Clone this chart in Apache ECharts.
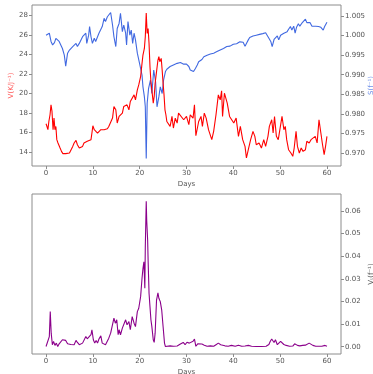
<!DOCTYPE html>
<html><head><meta charset="utf-8">
<script src="https://cdn.jsdelivr.net/npm/echarts@6/dist/echarts.min.js"></script>
<style>html,body{margin:0;padding:0;background:#fff}#c{width:373px;height:374px}</style>
</head><body><div id="c"></div>
<script>
var xTicks = [0, 10, 20, 30, 40, 50, 60];
var leftTicks = [14, 16, 18, 20, 22, 24, 26, 28];
var rightTicks = [0.970, 0.975, 0.980, 0.985, 0.990, 0.995, 1.000, 1.005];
var bottomTicks = [0.00, 0.01, 0.02, 0.03, 0.04, 0.05, 0.06];

var redDays = [0,0.2,0.4,0.6,0.85,1.06,1.27,1.5,1.7,1.9,2.1,2.3,2.55,2.8,3.0,3.3,3.6,3.9,4.2,4.6,5.0,5.3,5.7,6.0,6.4,6.7,7.1,7.4,7.8,8.1,8.5,8.8,9.2,9.6,9.8,10.0,10.3,10.6,11.0,11.3,11.7,12.0,12.4,12.7,13.1,13.4,13.8,14.2,14.5,14.9,15.2,15.6,15.9,16.3,16.6,17.0,17.3,17.7,18.0,18.4,18.8,19.1,19.5,19.8,20.2,20.5,20.7,21.0,21.2,21.4,21.6,21.8,22.0,22.2,22.4,22.6,22.9,23.1,23.3,23.6,23.9,24.1,24.3,24.6,24.8,25.0,25.2,25.4,25.6,25.8,26.2,26.5,26.9,27.2,27.6,28.0,28.3,28.7,29.4,30.0,30.5,30.8,31.4,31.7,32.0,32.6,33.1,33.4,33.8,34.2,34.7,35.4,35.8,36.3,36.8,37.2,37.5,37.7,38.1,38.4,38.7,39.2,39.6,40.1,40.6,41.1,41.5,42.0,42.5,42.8,43.2,43.7,44.2,44.6,44.9,45.5,46.0,46.5,46.9,47.4,47.7,48.2,48.5,48.8,49.2,49.6,50.0,50.4,50.8,51.1,51.4,51.8,52.3,52.7,53.0,53.4,53.7,54.1,54.5,54.9,55.4,55.7,56.2,56.6,57.0,57.5,57.9,58.3,58.7,59.0,59.4,59.7,60.0];
var redVals = [16.88,16.60,16.27,17.11,17.80,18.82,18.14,16.27,17.46,16.27,16.60,15.25,14.91,15.08,14.39,14.05,13.82,13.95,13.82,13.95,13.88,14.05,14.56,14.91,15.18,14.73,14.39,14.22,14.56,14.91,14.73,15.08,14.91,15.25,15.93,16.67,16.27,16.44,15.93,16.10,16.27,16.44,16.27,16.44,16.37,16.60,16.78,17.46,18.65,18.31,16.95,17.63,17.46,17.97,18.65,18.48,18.82,18.31,19.16,19.33,19.84,19.33,20.35,20.86,21.71,23.07,23.92,24.60,25.79,28.24,26.13,26.64,25.11,22.73,21.20,20.35,18.99,19.67,21.03,22.22,23.41,23.75,23.24,23.58,22.39,21.03,19.84,18.31,17.80,17.11,17.29,16.61,17.63,16.44,17.46,16.95,17.97,17.80,17.29,17.63,16.78,17.80,17.46,18.82,15.65,17.11,17.63,16.61,17.97,17.46,16.27,15.25,16.10,17.80,19.84,19.33,20.25,17.63,20.01,20.21,18.99,17.63,17.80,16.95,17.46,15.59,16.61,15.25,14.56,13.37,14.22,15.25,16.10,15.59,14.73,14.91,14.39,15.25,14.56,15.59,16.61,17.29,15.93,17.63,15.59,15.25,15.42,17.63,16.27,16.61,15.25,14.22,13.88,13.54,14.39,16.10,14.56,13.88,14.39,14.05,14.22,15.08,14.91,15.25,15.08,15.59,14.91,17.29,15.93,14.91,13.71,14.56,15.59];

var blueDays = [0,0.35,0.7,0.9,1.06,1.4,1.8,2.1,2.5,2.8,3.2,3.5,3.9,4.2,4.6,5.0,5.3,5.7,6.0,6.4,6.7,7.1,7.4,7.8,8.1,8.5,8.7,9.1,9.3,9.6,9.9,10.3,10.6,11.0,11.3,11.7,12.0,12.4,12.7,13.1,13.4,13.8,14.2,14.5,14.9,15.2,15.6,15.9,16.3,16.6,17.0,17.2,17.5,17.9,18.2,18.5,18.8,19.1,19.5,19.8,20.2,20.5,20.7,21.0,21.2,21.4,21.6,21.9,22.3,22.6,23.0,23.4,23.7,24.1,24.4,24.8,25.1,25.5,25.8,26.5,27.2,28.0,28.7,29.4,30.0,30.5,30.8,31.2,31.5,31.9,32.3,32.6,33.0,33.3,33.7,34.0,34.4,34.7,35.1,35.4,35.8,36.1,36.5,36.8,37.2,37.5,37.9,38.2,38.6,38.9,39.3,39.6,40.0,40.4,40.7,41.1,41.4,41.8,42.1,42.5,42.8,43.2,43.5,43.9,44.2,44.9,45.6,46.3,46.9,47.3,47.6,48.0,48.3,48.7,49.0,49.4,49.7,50.1,50.4,50.8,51.1,51.5,51.8,52.2,52.5,52.9,53.2,53.5,53.9,54.2,54.6,54.9,55.4,55.7,56.1,56.4,56.8,57.1,57.6,58.2,58.7,59.2,59.5,60.0];
var blueVals = [1.0001,1.0004,1.0006,1.0009,0.9985,0.9976,0.9982,0.9993,0.9989,0.9985,0.9987,0.9967,0.9950,0.9922,0.9955,0.9963,0.9967,0.9972,0.9976,0.9980,0.9972,0.9980,0.9985,0.9997,0.9993,1.0006,0.9980,1.0001,1.0023,0.9997,0.9980,0.9993,0.9985,0.9997,1.0006,1.0010,1.0023,1.0044,1.0036,1.0048,1.0044,1.0059,1.0027,0.9997,0.9972,1.0018,1.0031,1.0057,1.0010,1.0027,1.0006,0.9976,1.0036,1.0001,1.0014,0.9980,1.0006,0.9989,0.9955,0.9959,0.9916,0.9899,0.9869,0.9844,0.9818,0.9686,0.9827,0.9865,0.9886,0.9852,0.9912,0.9882,0.9818,0.9844,0.9869,0.9852,0.9886,0.9908,0.9914,0.9921,0.9925,0.9929,0.9931,0.9927,0.9927,0.9921,0.9912,0.9916,0.9908,0.9916,0.9925,0.9933,0.9933,0.9939,0.9946,0.9944,0.9950,0.9948,0.9953,0.9948,0.9955,0.9950,0.9959,0.9956,0.9963,0.9959,0.9967,0.9963,0.9972,0.9967,0.9973,0.9972,0.9978,0.9980,0.9979,0.9982,0.9984,0.9980,0.9983,0.9973,0.9980,0.9989,0.9995,0.9997,0.9999,1.0001,1.0003,1.0005,1.0007,1.0006,0.9993,0.9985,0.9972,0.9990,0.9985,0.9999,0.9989,1.0001,0.9997,1.0006,1.0003,1.0010,1.0016,1.0023,1.0014,1.0024,1.0006,1.0021,1.0030,1.0024,1.0031,1.0028,1.0042,1.0033,1.0038,1.0033,1.0024,1.0023,1.0024,1.0023,1.0021,1.0014,1.0023,1.0034];

var purpleDays = [0,0.35,0.7,0.9,1.1,1.35,1.6,1.9,2.2,2.5,2.8,3.2,3.5,3.9,4.2,4.6,5.0,5.3,5.7,6.0,6.4,6.7,7.1,7.4,7.8,8.1,8.5,8.8,9.2,9.6,9.8,10.1,10.4,10.7,11.0,11.3,11.7,12.0,12.4,12.7,13.1,13.4,13.8,14.2,14.5,14.8,15.1,15.4,15.6,15.9,16.3,16.6,17.0,17.3,17.7,18.0,18.4,18.8,19.1,19.5,19.8,20.2,20.5,20.7,20.9,21.1,21.2,21.4,21.5,21.7,21.8,22.0,22.2,22.4,22.6,22.9,23.1,23.3,23.6,23.9,24.1,24.4,24.7,25.0,25.3,25.5,25.8,26.5,27.2,28.0,28.7,29.3,29.7,30.1,30.6,31.0,31.4,31.7,32.0,32.4,32.8,33.3,33.8,34.4,35.1,35.8,36.3,36.8,37.3,37.7,38.2,38.9,39.6,40.4,41.1,41.8,42.5,43.2,43.9,44.9,46.0,47.0,47.6,47.9,48.2,48.5,48.7,49.0,49.4,49.7,50.1,50.4,50.8,51.3,52.0,52.7,53.1,53.4,53.7,54.2,54.8,55.4,55.8,56.2,56.5,57.0,57.6,58.3,58.9,59.3,59.6,60.0];
var purpleVals = [0.0001,0.0006,0.0045,0.0155,0.0060,0.0009,0.0024,0.0006,0.0016,0.0001,0.0013,0.0019,0.0031,0.0031,0.0028,0.0013,0.0009,0.0010,0.0006,0.0009,0.0028,0.0019,0.0009,0.0004,0.0016,0.0024,0.0045,0.0035,0.0042,0.0053,0.0075,0.0031,0.0016,0.0028,0.0016,0.0034,0.0048,0.0016,0.0024,0.0009,0.0001,0.0038,0.0060,0.0067,0.0126,0.0104,0.0119,0.0053,0.0075,0.0053,0.0082,0.0089,0.0119,0.0097,0.0111,0.0075,0.0133,0.0104,0.0089,0.0155,0.0170,0.0221,0.0302,0.0345,0.0375,0.0258,0.0441,0.0642,0.0558,0.0471,0.0382,0.0236,0.0177,0.0119,0.0089,0.0031,0.0019,0.0060,0.0206,0.0238,0.0214,0.0199,0.0163,0.0089,0.0016,0.0001,0.0002,0.0004,0.0002,0.0003,0.0012,0.0019,0.0009,0.0020,0.0016,0.0010,0.0024,0.0034,0.0002,0.0013,0.0006,0.0012,0.0007,0.0002,0.0004,0.0002,0.0009,0.0016,0.0009,0.0013,0.0004,0.0002,0.0006,0.0002,0.0007,0.0002,0.0003,0.0006,0.0002,0.0001,0.0001,0.0002,0.0010,0.0024,0.0034,0.0038,0.0019,0.0031,0.0009,0.0016,0.0024,0.0016,0.0010,0.0006,0.0002,0.0003,0.0013,0.0019,0.0006,0.0004,0.0006,0.0007,0.0013,0.0016,0.0010,0.0006,0.0002,0.0002,0.0002,0.0007,0.0006,0.0002];

function zip(a, b) { return a.map(function (v, i) { return [v, b[i]]; }); }

var FONT = 'DejaVu Sans';
var TXT = '#555555';
var FRAME = '#8c8c8c';
function xAx(grid) {
  return {
    type: 'value', gridIndex: grid, min: -3, max: 63, position: 'bottom',
    name: 'Days', nameLocation: 'middle', nameGap: 15, nameMoveOverlap: false,
    nameTextStyle: { fontFamily: FONT, fontSize: 7, color: TXT },
    axisLine: { show: false, onZero: false },
    axisTick: { show: true, length: 3, lineStyle: { color: FRAME }, customValues: xTicks },
    axisLabel: { fontFamily: FONT, fontSize: 7, color: TXT, margin: 4, customValues: xTicks },
    splitLine: { show: false }
  };
}
function yAx(grid, pos, min, max, ticks, fmt, name, nameColor, gap) {
  return {
    type: 'value', gridIndex: grid, position: pos, min: min, max: max,
    name: name, nameLocation: 'middle', nameGap: gap, nameRotate: 90, nameMoveOverlap: false,
    nameTextStyle: { fontFamily: FONT, fontSize: 7, color: nameColor },
    axisLine: { show: false, onZero: false },
    axisTick: { show: ticks.length > 0, length: 3, lineStyle: { color: FRAME }, customValues: ticks },
    axisLabel: { show: ticks.length > 0, fontFamily: FONT, fontSize: 7, color: TXT, margin: 4,
      customValues: ticks, formatter: fmt },
    splitLine: { show: false }
  };
}

var chart = echarts.init(document.getElementById('c'), null, { renderer: 'canvas' });
chart.setOption({
  animation: false,
  backgroundColor: '#fff',
  grid: [
    { left: 32, top: 5, width: 309, height: 161, containLabel: false, outerBoundsMode: 'none',
      show: true, borderColor: FRAME, borderWidth: 1, backgroundColor: 'transparent' },
    { left: 32, top: 194, width: 309, height: 160, containLabel: false, outerBoundsMode: 'none',
      show: true, borderColor: FRAME, borderWidth: 1, backgroundColor: 'transparent' }
  ],
  xAxis: [xAx(0), xAx(1)],
  yAxis: [
    yAx(0, 'left', 12.55, 29.05, leftTicks, function (v) { return String(Math.round(v)); }, 'V(K/J\u207b\u00b9)', '#ff5555', 17),
    yAx(0, 'right', 0.96668, 1.00781, rightTicks, function (v) { return v.toFixed(3); }, 'S(f\u207b\u00b9)', '#7090e8', 27),
    yAx(1, 'right', -0.0032, 0.0674, bottomTicks, function (v) { return v.toFixed(2); }, 'V\u209c(f\u207b\u00b9)', TXT, 27)
  ],
  series: [
    { type: 'line', xAxisIndex: 0, yAxisIndex: 1, data: zip(blueDays, blueVals), symbol: 'none',
      lineStyle: { color: '#4169e1', width: 1.1 }, z: 2 },
    { type: 'line', xAxisIndex: 0, yAxisIndex: 0, data: zip(redDays, redVals), symbol: 'none',
      lineStyle: { color: '#ff0000', width: 1.1 }, z: 3 },
    { type: 'line', xAxisIndex: 1, yAxisIndex: 2, data: zip(purpleDays, purpleVals), symbol: 'none',
      lineStyle: { color: '#8b008b', width: 1.1 }, z: 3 }
  ]
});
</script></body></html>
